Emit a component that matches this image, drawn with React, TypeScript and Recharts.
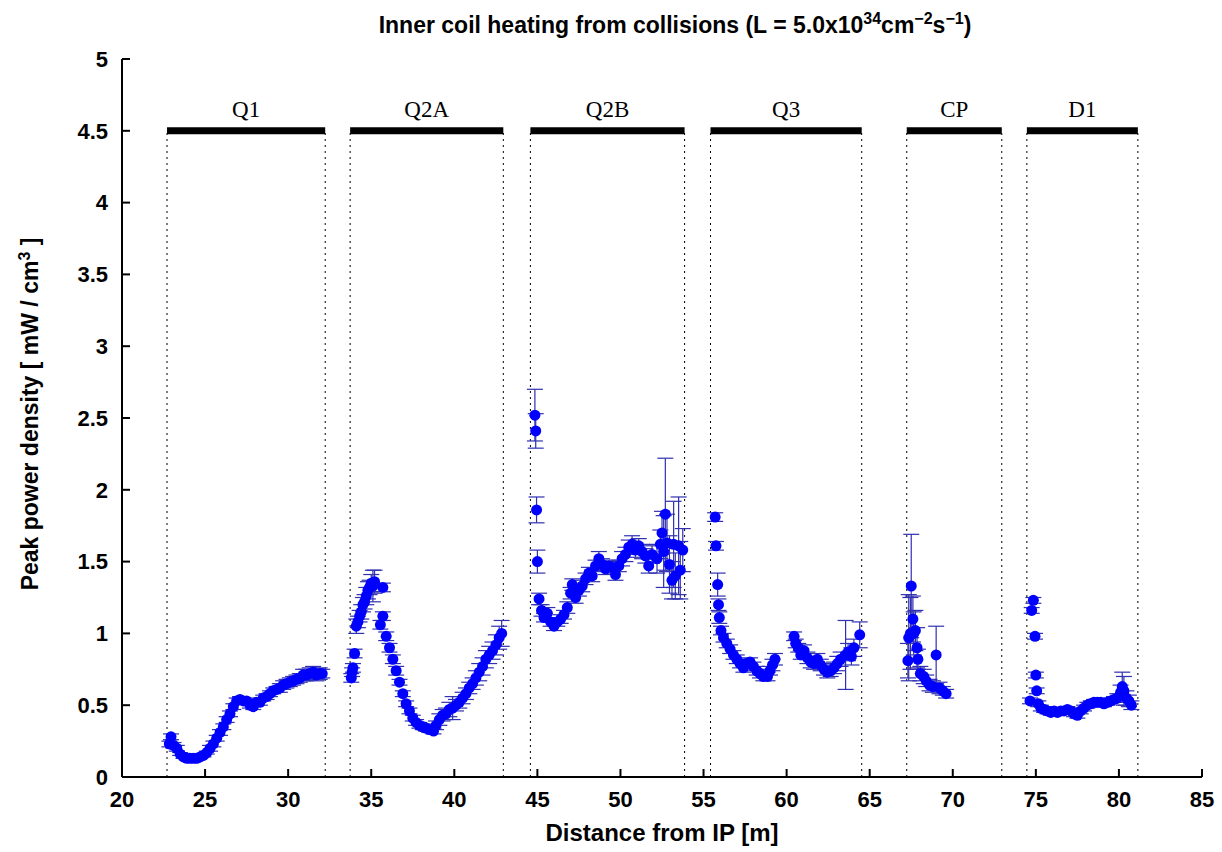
import React from 'react';
import { ScatterChart, Scatter, XAxis, YAxis, ErrorBar, ReferenceLine } from 'recharts';

// magnet sections: [name, start, end]
const sections: [string, number, number][] = [
  ['Q1', 22.71, 32.23],
  ['Q2A', 33.73, 42.95],
  ['Q2B', 44.58, 53.86],
  ['Q3', 55.42, 64.52],
  ['CP', 67.23, 72.95],
  ['D1', 74.46, 81.14],
];

const xTicks = [20, 25, 30, 35, 40, 45, 50, 55, 60, 65, 70, 75, 80, 85];
const yTicks = [0, 0.5, 1, 1.5, 2, 2.5, 3, 3.5, 4, 4.5, 5];

// [x, y, err]
const q1Pts = [
  [22.85, 0.23, 0.02], [22.95, 0.28, 0.02], [23.1, 0.22, 0.02], [23.3, 0.2, 0.02], [23.5, 0.16, 0.01],
  [23.7, 0.14, 0.01], [23.9, 0.13, 0.01], [24.1, 0.13, 0.01], [24.3, 0.13, 0.01], [24.5, 0.13, 0.01],
  [24.7, 0.14, 0.01], [24.9, 0.15, 0.01], [25.1, 0.17, 0.01], [25.3, 0.2, 0.02], [25.5, 0.23, 0.02],
  [25.7, 0.27, 0.02], [25.9, 0.31, 0.02], [26.1, 0.35, 0.02], [26.3, 0.4, 0.02], [26.5, 0.44, 0.02],
  [26.7, 0.49, 0.02], [26.9, 0.53, 0.02], [27.1, 0.54, 0.02], [27.3, 0.53, 0.02], [27.5, 0.53, 0.02],
  [27.7, 0.5, 0.02], [27.9, 0.49, 0.02], [28.1, 0.52, 0.02], [28.3, 0.52, 0.02], [28.5, 0.55, 0.02],
  [28.7, 0.56, 0.02], [28.9, 0.58, 0.02], [29.1, 0.6, 0.02], [29.3, 0.61, 0.02], [29.5, 0.62, 0.03],
  [29.7, 0.64, 0.03], [29.9, 0.65, 0.03], [30.1, 0.66, 0.03], [30.3, 0.67, 0.03], [30.5, 0.68, 0.03],
  [30.7, 0.69, 0.03], [30.9, 0.71, 0.04], [31.1, 0.71, 0.04], [31.3, 0.72, 0.04], [31.5, 0.73, 0.04],
  [31.7, 0.71, 0.04], [31.9, 0.72, 0.04], [32.05, 0.72, 0.03],
];

const q2aPts = [
  [33.8, 0.69, 0.03], [33.85, 0.73, 0.03], [33.9, 0.76, 0.03], [34.0, 0.86, 0.03], [34.1, 1.05, 0.05],
  [34.2, 1.08, 0.04], [34.3, 1.12, 0.04], [34.4, 1.15, 0.05], [34.5, 1.2, 0.05], [34.6, 1.22, 0.05],
  [34.7, 1.26, 0.06], [34.8, 1.3, 0.06], [34.9, 1.32, 0.05], [35.0, 1.35, 0.06], [35.1, 1.33, 0.11],
  [35.2, 1.36, 0.08], [35.55, 1.06, 0.03], [35.7, 1.32, 0.03], [35.7, 1.12, 0.03], [35.9, 0.98, 0.03],
  [36.1, 0.9, 0.03], [36.3, 0.82, 0.03], [36.5, 0.74, 0.03], [36.7, 0.66, 0.02], [36.9, 0.58, 0.02],
  [37.1, 0.51, 0.02], [37.3, 0.46, 0.02], [37.5, 0.41, 0.02], [37.7, 0.38, 0.02], [37.9, 0.36, 0.02],
  [38.1, 0.35, 0.02], [38.3, 0.34, 0.02], [38.5, 0.33, 0.02], [38.75, 0.32, 0.02], [38.9, 0.36, 0.03],
  [39.1, 0.4, 0.04], [39.3, 0.43, 0.04], [39.5, 0.44, 0.04], [39.7, 0.47, 0.05], [39.9, 0.48, 0.08],
  [40.1, 0.5, 0.04], [40.3, 0.52, 0.04], [40.5, 0.55, 0.04], [40.7, 0.58, 0.04], [40.9, 0.62, 0.04],
  [41.1, 0.65, 0.04], [41.3, 0.69, 0.05], [41.5, 0.73, 0.06], [41.7, 0.77, 0.06], [41.9, 0.82, 0.06],
  [42.1, 0.85, 0.06], [42.3, 0.88, 0.06], [42.5, 0.92, 0.07], [42.7, 0.97, 0.08], [42.85, 1.0, 0.09],
];

const q2bPts = [
  [44.85, 2.52, 0.18], [44.9, 2.41, 0.12], [44.95, 1.86, 0.09], [45.0, 1.5, 0.08], [45.1, 1.24, 0.04],
  [45.25, 1.16, 0.04], [45.4, 1.11, 0.03], [45.6, 1.14, 0.04], [45.8, 1.08, 0.03], [46.0, 1.05, 0.03],
  [46.2, 1.08, 0.03], [46.4, 1.1, 0.03], [46.6, 1.13, 0.03], [46.8, 1.18, 0.04], [47.0, 1.28, 0.04],
  [47.1, 1.34, 0.04], [47.3, 1.25, 0.04], [47.5, 1.3, 0.04], [47.7, 1.33, 0.04], [47.9, 1.38, 0.04],
  [48.1, 1.42, 0.04], [48.3, 1.4, 0.04], [48.5, 1.47, 0.04], [48.7, 1.52, 0.05], [48.9, 1.48, 0.04],
  [49.1, 1.45, 0.04], [49.3, 1.47, 0.04], [49.5, 1.46, 0.04], [49.7, 1.41, 0.04], [49.9, 1.47, 0.04],
  [50.1, 1.52, 0.05], [50.3, 1.55, 0.05], [50.5, 1.6, 0.05], [50.7, 1.62, 0.06], [50.9, 1.58, 0.05],
  [51.1, 1.61, 0.05], [51.3, 1.57, 0.05], [51.5, 1.54, 0.05], [51.7, 1.47, 0.05], [51.9, 1.55, 0.06],
  [52.2, 1.52, 0.1], [52.4, 1.62, 0.1], [52.5, 1.7, 0.15], [52.6, 1.57, 0.25], [52.7, 1.83, 0.39],
  [52.8, 1.63, 0.2], [52.95, 1.48, 0.2], [53.1, 1.37, 0.13], [53.2, 1.62, 0.3], [53.3, 1.4, 0.16],
  [53.5, 1.61, 0.34], [53.6, 1.44, 0.2], [53.75, 1.58, 0.15],
];

const q3Pts = [
  [55.7, 1.81, 0.03], [55.75, 1.61, 0.03], [55.85, 1.34, 0.08], [55.9, 1.2, 0.04], [55.95, 1.11, 0.04],
  [56.05, 1.02, 0.03], [56.2, 0.97, 0.03], [56.4, 0.93, 0.03], [56.6, 0.89, 0.03], [56.8, 0.85, 0.03],
  [57.0, 0.82, 0.03], [57.2, 0.79, 0.03], [57.4, 0.76, 0.03], [57.6, 0.79, 0.03], [57.8, 0.8, 0.03],
  [58.0, 0.77, 0.03], [58.2, 0.74, 0.03], [58.4, 0.72, 0.03], [58.6, 0.7, 0.03], [58.85, 0.7, 0.03],
  [59.0, 0.74, 0.03], [59.15, 0.78, 0.04], [59.3, 0.82, 0.04], [60.45, 0.98, 0.03], [60.55, 0.93, 0.03],
  [60.7, 0.9, 0.03], [60.85, 0.85, 0.03], [61.05, 0.88, 0.04], [61.25, 0.83, 0.04], [61.45, 0.8, 0.04],
  [61.65, 0.79, 0.04], [61.85, 0.82, 0.04], [62.05, 0.78, 0.04], [62.25, 0.75, 0.04], [62.45, 0.73, 0.04],
  [62.65, 0.74, 0.04], [62.85, 0.76, 0.04], [63.05, 0.79, 0.05], [63.25, 0.82, 0.05], [63.55, 0.85, 0.24],
  [63.7, 0.87, 0.06], [63.9, 0.84, 0.06], [64.05, 0.9, 0.06], [64.4, 0.99, 0.09],
];

const cpPts = [
  [67.3, 0.81, 0.12], [67.35, 0.97, 0.3], [67.45, 1.0, 0.25], [67.5, 1.33, 0.36], [67.6, 1.1, 0.16],
  [67.65, 1.0, 0.15], [67.75, 1.02, 0.14], [67.85, 0.9, 0.14], [67.9, 0.82, 0.07], [68.05, 0.72, 0.05],
  [68.25, 0.7, 0.05], [68.4, 0.67, 0.04], [68.6, 0.64, 0.04], [68.8, 0.63, 0.04], [69.0, 0.85, 0.2],
  [69.2, 0.62, 0.04], [69.4, 0.6, 0.03], [69.6, 0.58, 0.03],
];

const d1Pts = [
  [74.65, 0.53, 0.02], [74.75, 1.16, 0.02], [74.85, 1.23, 0.02], [74.95, 0.98, 0.02], [75.0, 0.71, 0.02],
  [75.05, 0.6, 0.02], [75.15, 0.51, 0.02], [75.3, 0.48, 0.02], [75.5, 0.47, 0.02], [75.7, 0.46, 0.02],
  [75.9, 0.45, 0.02], [76.1, 0.46, 0.02], [76.3, 0.45, 0.02], [76.5, 0.46, 0.02], [76.7, 0.46, 0.02],
  [76.9, 0.47, 0.02], [77.1, 0.46, 0.02], [77.3, 0.44, 0.02], [77.5, 0.43, 0.02], [77.7, 0.46, 0.02],
  [77.9, 0.48, 0.02], [78.1, 0.5, 0.02], [78.3, 0.51, 0.02], [78.5, 0.52, 0.02], [78.7, 0.52, 0.02],
  [78.9, 0.52, 0.02], [79.1, 0.51, 0.02], [79.3, 0.52, 0.02], [79.5, 0.53, 0.02], [79.7, 0.54, 0.02],
  [79.9, 0.55, 0.03], [80.1, 0.59, 0.05], [80.2, 0.63, 0.1], [80.3, 0.6, 0.1], [80.45, 0.55, 0.05],
  [80.6, 0.53, 0.04], [80.75, 0.5, 0.03],
];

const allPts = [...q1Pts, ...q2aPts, ...q2bPts, ...q3Pts, ...cpPts, ...d1Pts].map(([x, y, err]) => ({ x, y, err }));

const sans = '"Liberation Sans", Arial, sans-serif';
const dot = (p: any) => <circle cx={p.cx} cy={p.cy} r={5.5} fill="#0000ff" />;

export default function App() {
  return (
    <div style={{ position: 'absolute', left: 0, top: 0, width: 1222, height: 852, background: '#fff', fontFamily: sans }}>
      <div style={{ position: 'absolute', top: 10, left: 0, width: 1350, textAlign: 'center', fontSize: 23, fontWeight: 'bold' }}>
        Inner coil heating from collisions (L = 5.0x10<sup style={{ fontSize: 16 }}>34</sup>cm<sup style={{ fontSize: 16 }}>−2</sup>s<sup style={{ fontSize: 16 }}>−1</sup>)
      </div>
      <div style={{ position: 'absolute', left: 30, top: 414, transform: 'translate(-50%, -50%) rotate(-90deg)', whiteSpace: 'nowrap', fontSize: 23, fontWeight: 'bold' }}>
        Peak power density [ mW / cm<sup style={{ fontSize: 16 }}>3</sup> ]
      </div>
      <div style={{ position: 'absolute', top: 819, left: 122, width: 1080, textAlign: 'center', fontSize: 24, fontWeight: 'bold' }}>
        Distance from IP [m]
      </div>
      <ScatterChart width={1222} height={852} margin={{ top: 59, right: 20, bottom: 35, left: 62 }}>
        <XAxis type="number" dataKey="x" domain={[20, 85]} ticks={xTicks} allowDataOverflow
          height={40} stroke="#000" strokeWidth={2} tickSize={-8} tickMargin={22}
          tick={{ fill: '#000', fontSize: 22, fontWeight: 'bold', fontFamily: sans }} />
        <XAxis xAxisId="top" type="number" dataKey="x" orientation="top" domain={[20, 85]} ticks={xTicks}
          height={0} stroke="#000" strokeWidth={2} tickSize={-8} tick={false} />
        <YAxis type="number" dataKey="y" domain={[0, 5]} ticks={yTicks} allowDataOverflow
          width={60} stroke="#000" strokeWidth={2} tickSize={-8} tickMargin={22}
          tick={{ fill: '#000', fontSize: 22, fontWeight: 'bold', fontFamily: sans }} />
        <YAxis yAxisId="right" type="number" dataKey="y" orientation="right" domain={[0, 5]} ticks={yTicks}
          width={0} stroke="#000" strokeWidth={2} tickSize={-8} tick={false} />
        {sections.map(([name, a, b]) => (
          <ReferenceLine key={name + 'a'} segment={[{ x: a, y: 0 }, { x: a, y: 4.5 }]} stroke="#000" strokeDasharray="2 4" />
        ))}
        {sections.map(([name, a, b]) => (
          <ReferenceLine key={name + 'b'} segment={[{ x: b, y: 0 }, { x: b, y: 4.5 }]} stroke="#000" strokeDasharray="2 4" />
        ))}
        {sections.map(([name, a, b]) => (
          <ReferenceLine key={name} segment={[{ x: a, y: 4.5 }, { x: b, y: 4.5 }]} stroke="#000" strokeWidth={7}
            label={{ value: name, position: 'top', offset: 14, fill: '#000', fontSize: 23, fontFamily: '"Liberation Serif", serif' }} />
        ))}
        <Scatter data={allPts} shape={dot} isAnimationActive={false}>
          <ErrorBar dataKey="err" direction="y" width={8} stroke="#3030b0" strokeWidth={1.2} />
        </Scatter>
      </ScatterChart>
    </div>
  );
}
